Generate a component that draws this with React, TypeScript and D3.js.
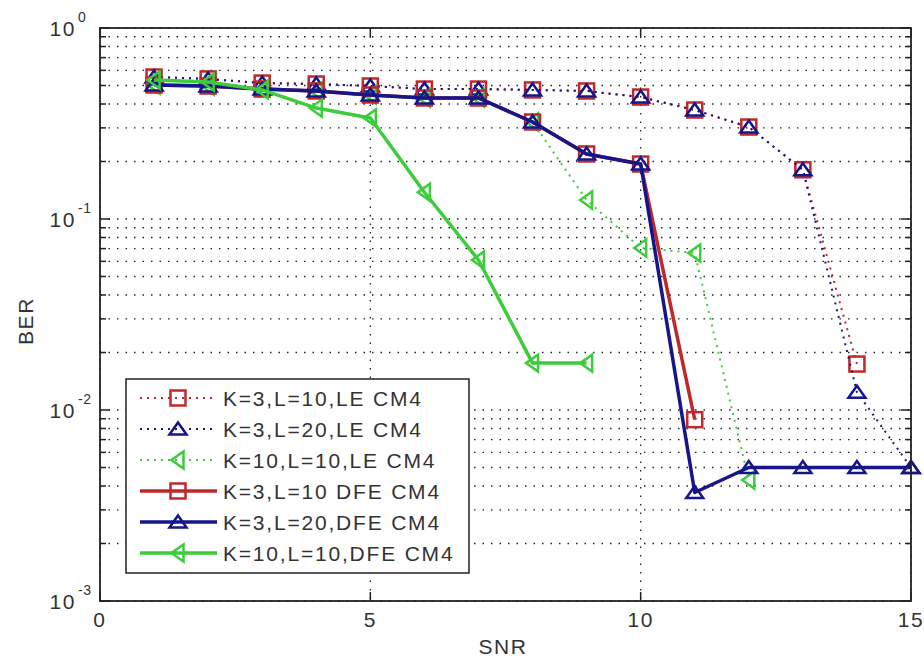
import React from "react";
import * as d3 from "d3";

const snr = [1, 2, 3, 4, 5, 6, 7, 8, 9, 10, 11, 12, 13, 14, 15];
const leK3L10 = [0.554, 0.541, 0.515, 0.509, 0.497, 0.479, 0.479, 0.474, 0.468, 0.435, 0.372, 0.303, 0.181, 0.0174];
const leK3L20 = [0.554, 0.541, 0.515, 0.509, 0.497, 0.479, 0.479, 0.474, 0.468, 0.435, 0.372, 0.303, 0.181, 0.0124, 0.005];
const leK10L10 = [0.503, 0.497, 0.479, 0.468, 0.446, 0.43, 0.43, 0.322, 0.1257, 0.0705, 0.0664, 0.0043];
const dfeK3L10 = [0.503, 0.497, 0.479, 0.468, 0.446, 0.43, 0.43, 0.322, 0.219, 0.194, 0.0089];
const dfeK3L20 = [0.503, 0.497, 0.479, 0.468, 0.446, 0.43, 0.43, 0.322, 0.219, 0.194, 0.0037, 0.005, 0.005, 0.005, 0.005];
const dfeK10L10 = [0.534, 0.521, 0.474, 0.381, 0.338, 0.138, 0.061, 0.0176, 0.0176];

const xTicks = [0, 5, 10, 15];
const yDecades = [-3, -2, -1, 0];
const seriesLabels = [
  "K=3,L=10,LE CM4",
  "K=3,L=20,LE CM4",
  "K=10,L=10,LE CM4",
  "K=3,L=10 DFE CM4",
  "K=3,L=20,DFE CM4",
  "K=10,L=10,DFE CM4",
];

const RED = "#c0282c";
const BLUE = "#16168a";
const GREEN = "#3ccc3c";

type Series = { label: string; values: number[]; color: string; dotted: boolean; marker: "sq" | "up" | "left" };

const series: Series[] = [
  { label: seriesLabels[0], values: leK3L10, color: RED, dotted: true, marker: "sq" },
  { label: seriesLabels[1], values: leK3L20, color: BLUE, dotted: true, marker: "up" },
  { label: seriesLabels[2], values: leK10L10, color: GREEN, dotted: true, marker: "left" },
  { label: seriesLabels[3], values: dfeK3L10, color: RED, dotted: false, marker: "sq" },
  { label: seriesLabels[4], values: dfeK3L20, color: BLUE, dotted: false, marker: "up" },
  { label: seriesLabels[5], values: dfeK10L10, color: GREEN, dotted: false, marker: "left" },
];

const FONT = "'Liberation Sans', Arial, sans-serif";
const TEXT = "#333";

function Marker({ kind, x, y, color }: { kind: string; x: number; y: number; color: string }) {
  const s = 7.5;
  if (kind === "sq") {
    return <rect x={x - s} y={y - s} width={2 * s} height={2 * s} fill="none" stroke={color} strokeWidth={2.5} />;
  }
  if (kind === "up") {
    const p = `${x},${y - s + 1} ${x + s + 1},${y + s - 2} ${x - s - 1},${y + s - 2}`;
    return <polygon points={p} fill="none" stroke={color} strokeWidth={2.5} />;
  }
  const p = `${x - s + 1},${y} ${x + s - 2},${y - s - 1} ${x + s - 2},${y + s + 1}`;
  return <polygon points={p} fill="none" stroke={color} strokeWidth={2.5} />;
}

export default function App() {
  const W = 924, H = 659;
  const left = 100, right = 911, top = 28, bottom = 601;
  const x = d3.scaleLinear().domain([0, 15]).range([left, right]);
  const y = d3.scaleLog().domain([1e-3, 1]).range([bottom, top]);

  const gridY: number[] = [];
  for (let e = -3; e < 0; e++) for (let m = 1; m <= 9; m++) gridY.push(m * Math.pow(10, e));
  gridY.push(1);

  const line = d3.line<number>().x((_, i) => x(snr[i])).y((v) => y(v));

  const legX = 126, legY = 379, legW = 343, legH = 194;
  const rowY = (i: number) => 398 + i * 31;

  return (
    <svg width={W} height={H} style={{ position: "absolute", left: 0, top: 0, background: "#fff" }}>
      <rect x={0} y={0} width={W} height={H} fill="#fff" />
      {/* grid */}
      <g stroke="#222" strokeWidth={1.3} strokeDasharray="1.5,7">
        {gridY.map((v, i) => (
          <line key={"gy" + i} x1={left} x2={right} y1={y(v)} y2={y(v)} />
        ))}
        {xTicks.map((t) => (
          <line key={"gx" + t} x1={x(t)} x2={x(t)} y1={top} y2={bottom} />
        ))}
      </g>
      {/* ticks */}
      <g stroke="#222" strokeWidth={1.5}>
        {xTicks.map((t) => (
          <g key={"xt" + t}>
            <line x1={x(t)} x2={x(t)} y1={bottom} y2={bottom - 9} />
            <line x1={x(t)} x2={x(t)} y1={top} y2={top + 9} />
          </g>
        ))}
        {gridY.map((v, i) => {
          const major = Math.abs(Math.log10(v) - Math.round(Math.log10(v))) < 1e-9;
          const len = major ? 10 : 6;
          return (
            <g key={"yt" + i}>
              <line x1={left} x2={left + len} y1={y(v)} y2={y(v)} />
              <line x1={right} x2={right - len} y1={y(v)} y2={y(v)} />
            </g>
          );
        })}
      </g>
      {/* series */}
      {series.map((s, si) => (
        <g key={"s" + si}>
          <path
            d={line(s.values) || ""}
            fill="none"
            stroke={s.color}
            strokeWidth={s.dotted ? 2 : 3.5}
            strokeDasharray={s.dotted ? "2,5" : undefined}
            strokeLinejoin="round"
          />
          {s.values.map((v, i) => (
            <Marker key={i} kind={s.marker} x={x(snr[i])} y={y(v)} color={s.color} />
          ))}
        </g>
      ))}
      {/* axes box */}
      <rect x={left} y={top} width={right - left} height={bottom - top} fill="none" stroke="#222" strokeWidth={1.8} />
      {/* tick labels */}
      <g fontFamily={FONT} fill={TEXT} fontSize={21} letterSpacing={1.6}>
        {xTicks.map((t) => (
          <text key={"xl" + t} x={x(t)} y={627} textAnchor="middle">
            {t}
          </text>
        ))}
        {yDecades.map((e) => (
          <g key={"yl" + e}>
            <text x={76} y={y(Math.pow(10, e)) + 8} textAnchor="end">10</text>
            <text x={78} y={y(Math.pow(10, e)) - 6} fontSize={14} letterSpacing={0.5}>
              {e === 0 ? "0" : String(e)}
            </text>
          </g>
        ))}
        <text x={503} y={654} textAnchor="middle">SNR</text>
        <text transform="translate(33,321) rotate(-90)" textAnchor="middle">BER</text>
      </g>
      {/* legend */}
      <rect x={legX} y={legY} width={legW} height={legH} fill="#fff" stroke="#222" strokeWidth={1.5} />
      {series.map((s, i) => (
        <g key={"lg" + i}>
          <line
            x1={140}
            x2={217}
            y1={rowY(i)}
            y2={rowY(i)}
            stroke={s.color}
            strokeWidth={s.dotted ? 2 : 3.5}
            strokeDasharray={s.dotted ? "2,5" : undefined}
          />
          <Marker kind={s.marker} x={178} y={rowY(i)} color={s.color} />
          <text x={223} y={rowY(i) + 8} fontFamily={FONT} fontSize={21} letterSpacing={1.8} fill={TEXT}>
            {s.label}
          </text>
        </g>
      ))}
    </svg>
  );
}
